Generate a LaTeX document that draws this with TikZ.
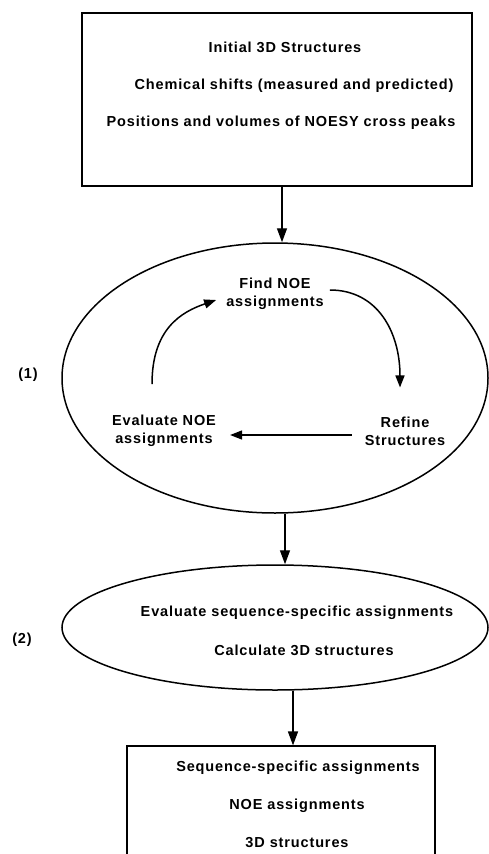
\documentclass[tikz,border=0pt]{standalone}
\usepackage{fontspec}
\setmainfont{Liberation Sans}
\usetikzlibrary{shapes.geometric,arrows.meta}
\tikzset{
  lbl/.style={font=\fontsize{14.5}{18}\selectfont\bfseries\addfontfeature{LetterSpace=6},align=center,inner sep=1pt},
  flow/.style={-{Triangle[length=14pt,width=10pt]},line width=1.4pt},
  turn/.style={-{Triangle[length=12pt,width=9pt]},line width=1.5pt}
}
\begin{document}
\begin{tikzpicture}[x=1pt,y=-1pt]
\useasboundingbox (0,0) rectangle (489,854);
\node[draw,line width=2.6pt,minimum width=390pt,minimum height=173pt] (inbox) at (277,99.5) {};
\node[lbl] (initial) at (285,47) {Initial 3D Structures};
\node[lbl] (shifts) at (294,86) {Chemical shifts (measured and predicted)};
\node[lbl] (peaks) at (281,123) {Positions and volumes of NOESY cross peaks};
\node[draw,ellipse,line width=1.5pt,minimum width=426pt,minimum height=270pt,inner sep=0pt] (noeloop) at (275,378) {};
\node[lbl] (findnoe) at (275,294) {Find NOE\\assignments};
\node[lbl] (refine) at (405,431) {Refine\\Structures};
\node[lbl] (evalnoe) at (164,431) {Evaluate NOE\\assignments};
\node[lbl] (lbla) at (28,375) {(1)};
\node[draw,ellipse,line width=1.5pt,minimum width=426pt,minimum height=125pt,inner sep=0pt] (seqloop) at (275,627.5) {};
\node[lbl] (evalseq) at (297,613) {Evaluate sequence-specific assignments};
\node[lbl] (calcstruct) at (304,650) {Calculate 3D structures};
\node[lbl] (lblb) at (22,640) {(2)};
\node[draw,line width=1.2pt,minimum width=308pt,minimum height=120pt] (outbox) at (281,806) {};
\node[lbl] (seqassign) at (298,768) {Sequence-specific assignments};
\node[lbl] (noeassign) at (297,806) {NOE assignments};
\node[lbl] (structs) at (297,843) {3D structures};
\draw[flow] ([xshift=5pt]inbox.south) -- ([xshift=5pt]inbox.south |- noeloop.north);
\draw[turn] ([xshift=-12pt,yshift=30pt]evalnoe.north) .. controls +(0,-55) and +(-35,12) .. ([xshift=-9pt,yshift=-6pt]findnoe.west);
\draw[turn] ([xshift=5pt,yshift=4pt]findnoe.east) .. controls +(48,0) and +(0,-55) .. ([xshift=-5pt,yshift=28pt]refine.north);
\draw[turn] ([xshift=-12pt,yshift=-4pt]refine.west) -- ([xshift=13pt,yshift=-4pt]refine.west -| evalnoe.east);
\draw[flow] ([xshift=10pt]noeloop.south) -- ([xshift=10pt]noeloop.south |- seqloop.north);
\draw[flow] ([xshift=18pt]seqloop.south) -- ([xshift=18pt]seqloop.south |- outbox.north);
\end{tikzpicture}
\end{document}
